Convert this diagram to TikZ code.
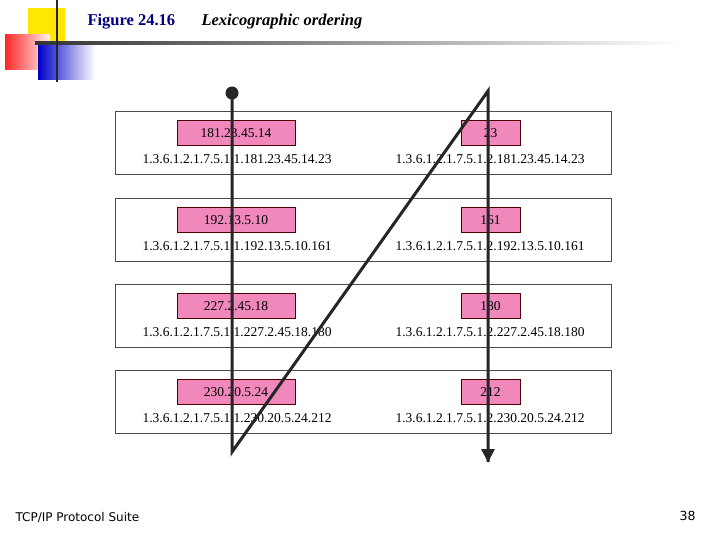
\documentclass[tikz,border=0pt]{standalone}
\usepackage{fontspec}
\setmainfont{Liberation Serif}
\newfontfamily\tahoma{DejaVu Sans}
\definecolor{pkc}{HTML}{F088BC}
\begin{document}
\begin{tikzpicture}[x=1pt,y=-1pt,
  row/.style={draw=black!70,line width=0.6pt,fill=white},
  pk/.style={draw=black!70!red,fill=pkc,line width=0.8pt,minimum height=25pt,inner sep=0pt,font=\fontsize{13.5}{15}\selectfont},
  oid/.style={font=\fontsize{13.5}{15}\selectfont,inner sep=0pt},
  walk/.style={line width=3pt,black!85}]
\useasboundingbox (0,0) rectangle (720,540);
\fill[white] (0,0) rectangle (720,540);
% decoration
\fill[yellow!90!orange] (28,8) rectangle (65,45);
\shade[left color=red!85,right color=red!5] (5,35) rectangle (50,70);
\shade[left color=blue!80!black,right color=white] (38,45) rectangle (95,80);
\shade[left color=black!80,right color=white] (35,42) rectangle (680,45);
\draw[line width=2pt,black!85] (57,0) -- (57,82);
\node[anchor=west,font=\fontsize{16.5}{18}\selectfont\bfseries,text=blue!50!black] (fig) at (84,22) {Figure 24.16};
\node[anchor=west,font=\fontsize{16.5}{18}\selectfont\bfseries\itshape] (tit) at (198,22) {Lexicographic ordering};
% rows
\foreach \t/\la/\lb/\ra/\rb [count=\i] in {
 111/181.23.45.14/1.3.6.1.2.1.7.5.1.1.181.23.45.14.23/23/1.3.6.1.2.1.7.5.1.2.181.23.45.14.23,
 198/192.13.5.10/1.3.6.1.2.1.7.5.1.1.192.13.5.10.161/161/1.3.6.1.2.1.7.5.1.2.192.13.5.10.161,
 284/227.2.45.18/1.3.6.1.2.1.7.5.1.1.227.2.45.18.180/180/1.3.6.1.2.1.7.5.1.2.227.2.45.18.180,
 370/230.20.5.24/1.3.6.1.2.1.7.5.1.1.230.20.5.24.212/212/1.3.6.1.2.1.7.5.1.2.230.20.5.24.212}{
  \draw[row] (115,\t) rectangle (611,\t+63);
  \node[pk,minimum width=118pt] (l\i) at (236,\t+22) {\la};
  \node[pk,minimum width=59pt] (r\i) at (490.5,\t+22) {\ra};
  \node[oid] (lo\i) at (237,\t+48) {\lb};
  \node[oid] (ro\i) at (490,\t+48) {\rb};
}
% walk
\coordinate (s) at (232,93);
\coordinate (b) at (232,452);
\coordinate (t) at (488,91);
\coordinate (e) at (488,462);
\fill[black!85] (s) circle (6.5);
\draw[walk,line join=miter] (s) -- (b) -- (t) -- (e);
\fill[black!85] (e) -- ++(-7,-13) -- ++(14,0) -- cycle;
% footer
\node[anchor=west,font=\tahoma\fontsize{12}{14}\selectfont] (ft) at (12,517) {TCP/IP Protocol Suite};
\node[anchor=east,font=\tahoma\fontsize{12.5}{14}\selectfont] (pg) at (699,516) {38};
\end{tikzpicture}
\end{document}
